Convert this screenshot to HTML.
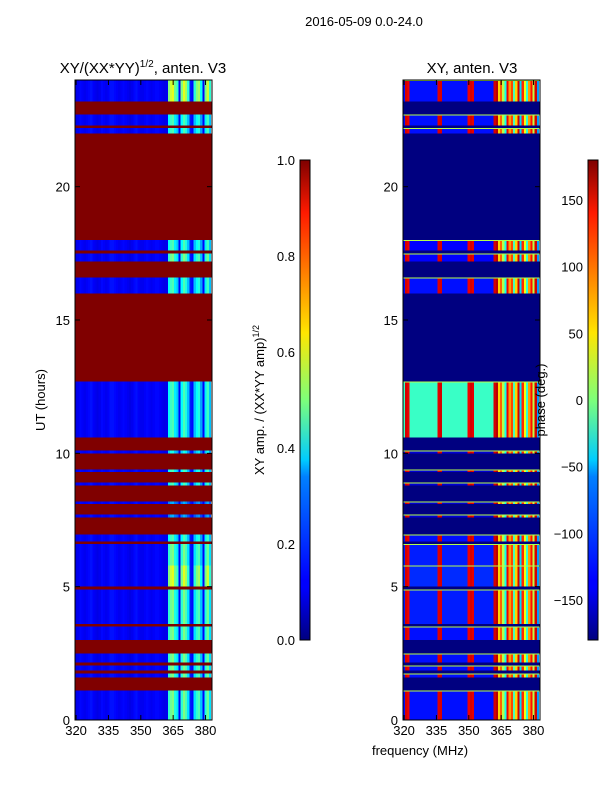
<!DOCTYPE html>
<html><head><meta charset="utf-8"><style>
body{margin:0;background:#fff;font-family:"Liberation Sans",sans-serif}
svg text{font-family:"Liberation Sans",sans-serif;fill:#000}
</style></head><body>
<svg id="fig" width="600" height="800" xmlns="http://www.w3.org/2000/svg">
<defs>
<linearGradient id="jetv" x1="0" y1="1" x2="0" y2="0">
<stop offset="0" stop-color="#00007f"/><stop offset="0.11" stop-color="#0000ff"/><stop offset="0.125" stop-color="#0000ff"/>
<stop offset="0.34" stop-color="#0080ff"/><stop offset="0.375" stop-color="#00ccff"/><stop offset="0.5" stop-color="#7dff7a"/>
<stop offset="0.64" stop-color="#ffe600"/><stop offset="0.66" stop-color="#ffd400"/><stop offset="0.89" stop-color="#ff1a00"/><stop offset="1" stop-color="#7f0000"/>
</linearGradient>
</defs>
<text x="364" y="26" font-size="13" text-anchor="middle">2016-05-09 0.0-24.0</text>
<text x="143" y="73" font-size="15" text-anchor="middle">XY/(XX*YY)<tspan font-size="10" dy="-6">1/2</tspan><tspan dy="6">, anten. V3</tspan></text>
<text x="472" y="73" font-size="15" text-anchor="middle">XY, anten. V3</text>
<g id="left"></g>
<g id="right"></g>
<g id="axes"></g>
<text transform="translate(45,400) rotate(-90)" font-size="13" text-anchor="middle">UT (hours)</text>
<text x="420" y="755" font-size="13" text-anchor="middle">frequency (MHz)</text>
<rect x="300" y="160" width="10" height="480" fill="url(#jetv)" stroke="#000" stroke-width="1"/>
<rect x="588" y="160" width="10" height="480" fill="url(#jetv)" stroke="#000" stroke-width="1"/>
<text transform="translate(264,400) rotate(-90)" font-size="13" text-anchor="middle">XY amp. / (XX*YY amp)<tspan font-size="9" dy="-5">1/2</tspan></text>
<text transform="translate(545,400) rotate(-90)" font-size="13" text-anchor="middle">phase (deg.)</text>
</svg>
<script>
// time bands (hours) and per-band values
const bandStart=[0,1.1,1.6,1.75,1.85,2.05,2.15,2.5,3.0,3.5,3.6,4.9,5.0,5.8,6.6,6.7,6.95,7.6,7.7,8.1,8.2,8.8,8.9,9.3,9.4,10.0,10.1,10.6,12.7,16.0,16.6,17.2,17.5,17.6,18.0,22.0,22.2,22.3,22.7,23.2];
const bandEnd=[1.1,1.6,1.75,1.85,2.05,2.15,2.5,3.0,3.5,3.6,4.9,5.0,5.8,6.6,6.7,6.95,7.6,7.7,8.1,8.2,8.8,8.9,9.3,9.4,10.0,10.1,10.6,12.7,16.0,16.6,17.2,17.5,17.6,18.0,22.0,22.2,22.3,22.7,23.2,24.0];
// amplitude scale in bright columns (null = flagged)
const ampHi=[0.5,null,0.5,null,0.5,null,0.5,null,0.5,null,0.5,null,0.6,0.5,null,0.45,null,0.3,null,0.3,null,0.45,null,0.45,null,0.4,null,0.45,null,0.45,null,0.5,null,0.45,null,0.45,null,0.45,null,0.6];
// phase base level (deg) for quiet columns
const phaseBase=[-130,null,-130,null,-130,null,-130,null,-130,null,-125,null,-120,-125,null,-130,null,-150,null,-150,null,-150,null,-150,null,-150,null,-25,null,-130,null,-135,null,-135,null,-130,null,-130,null,-130];
const freqs=[];for(let f=320;f<=382;f++)freqs.push(f);
// quiet amplitude per frequency
const ampBase=[0.1,0.11,0.13,0.12,0.11,0.12,0.13,0.14,0.12,0.11,0.1,0.11,0.13,0.12,0.11,0.12,0.14,0.14,0.13,0.12,0.11,0.12,0.13,0.12,0.11,0.1,0.11,0.13,0.14,0.12,0.11,0.11,0.12,0.13,0.12,0.11,0.12,0.13,0.13,0.12,0.11,0.1,0.11,0.42,0.48,0.5,0.4,0.35,0.12,0.42,0.5,0.45,0.35,0.15,0.13,0.35,0.42,0.45,0.32,0.12,0.4,0.48,0.35];
const brightMask=[0,0,0,0,0,0,0,0,0,0,0,0,0,0,0,0,0,0,0,0,0,0,0,0,0,0,0,0,0,0,0,0,0,0,0,0,0,0,0,0,0,0,0,1,1,1,1,1,0,1,1,1,1,0,0,1,1,1,1,0,1,1,1];
// phase profile (deg) per frequency; null = use band base
const phaseCol=[null,150,140,null,null,null,null,null,null,null,null,null,null,null,null,null,145,150,null,null,null,null,null,null,null,null,null,null,null,null,140,150,145,null,null,null,null,null,null,null,null,null,150,160,60,100,20,-40,140,80,110,-20,60,150,-60,120,40,-30,80,130,20,150,-80];

const X0=75,X1=212,R0=403,R1=540,Y0=720,Y1=80,F0=319.5,F1=383;
const xs=f=>(f-F0)/(F1-F0);
const yh=h=>Y0-(h/24)*(Y0-Y1);
function jet(v){v=Math.max(0,Math.min(1,v));
 const c=x=>Math.round(255*Math.max(0,Math.min(1,x)));
 const r=c(1.5-Math.abs(4*v-3)),g=c(1.5-Math.abs(4*v-2)),b=c(1.5-Math.abs(4*v-1));
 return `rgb(${r},${g},${b})`;}
const NS='http://www.w3.org/2000/svg';
function rect(parent,x,y,w,h,fill,name){const r=document.createElementNS(NS,'rect');
 r.setAttribute('x',x);r.setAttribute('y',y);r.setAttribute('width',w);r.setAttribute('height',h);r.setAttribute('fill',fill);r.setAttribute('shape-rendering','crispEdges');
 
 
 parent.appendChild(r);return r;}
const L=document.getElementById('left'),R=document.getElementById('right');
for(let b=0;b<bandStart.length;b++){
 const yt=yh(bandEnd[b]),yb=yh(bandStart[b]),h=yb-yt;
 if(ampHi[b]===null){
  rect(L,X0,yt,X1-X0,h,jet(1),'flagged-band');
  rect(R,R0,yt,R1-R0,h,jet(0),'flagged-band');
  continue;}
 for(let i=0;i<freqs.length;i++){
  const xa=xs(freqs[i]-0.5),xb=xs(freqs[i]+0.5);
  let a=brightMask[i]?ampBase[i]*ampHi[b]/0.5:ampBase[i];
  rect(L,X0+xa*(X1-X0),yt,(xb-xa)*(X1-X0)+0.3,h,jet(a),'amp-cell');
  let p=phaseCol[i]===null?phaseBase[b]:phaseCol[i];
  rect(R,R0+xa*(R1-R0),yt,(xb-xa)*(R1-R0)+0.3,h,jet((p+180)/360),'phase-cell');
 }
 rect(R,R0,yt,R1-R0,1,jet(0.55),'band-edge-line');
}
// axes
const A=document.getElementById('axes');
function line(x1,y1,x2,y2,name){const l=document.createElementNS(NS,'line');
 l.setAttribute('x1',x1);l.setAttribute('y1',y1);l.setAttribute('x2',x2);l.setAttribute('y2',y2);l.setAttribute('stroke','#000');l.setAttribute('stroke-width',1);
 
 
 A.appendChild(l);}
function text(x,y,s,anchor,name){const t=document.createElementNS(NS,'text');
 t.setAttribute('x',x);t.setAttribute('y',y);t.setAttribute('font-size',13);t.setAttribute('text-anchor',anchor);t.textContent=s;
 
 
 A.appendChild(t);}
const yTicks=[0,5,10,15,20];const xTicks=[320,335,350,365,380];
const cbAmpTicks=[0,0.2,0.4,0.6,0.8,1.0];const cbPhTicks=[-150,-100,-50,0,50,100,150];
[[X0,X1],[R0,R1]].forEach(([a,b])=>{
 const fr=document.createElementNS(NS,'rect');fr.setAttribute('x',a);fr.setAttribute('y',Y1);fr.setAttribute('width',b-a);fr.setAttribute('height',Y0-Y1);fr.setAttribute('fill','none');fr.setAttribute('stroke','#000');
 
 
 A.appendChild(fr);
 yTicks.forEach(t=>{const y=yh(t);line(a,y,a+5,y,'y-tick');line(b,y,b-5,y,'y-tick');text(a-5,y+5,String(t),'end','y-tick-label');});
 xTicks.forEach(t=>{const x=a+xs(t)*(b-a);line(x,Y0,x,Y0-5,'x-tick');line(x,Y1,x,Y1+5,'x-tick');text(x,Y0+15,String(t),'middle','x-tick-label');});
});
cbAmpTicks.forEach(t=>{const y=640-t*480;line(306,y,310,y,'colorbar-tick');text(295,y+5,t.toFixed(1),'end','colorbar-tick-label');});
cbPhTicks.forEach(t=>{const y=640-(t+180)/360*480;line(594,y,598,y,'colorbar-tick');text(583,y+5,String(t).replace('-','\u2212'),'end','colorbar-tick-label');});
</script>
</body></html>
